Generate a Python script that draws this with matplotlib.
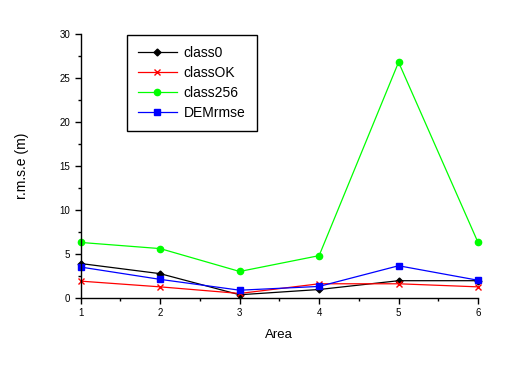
import matplotlib

matplotlib.use("Agg")
import matplotlib.pyplot as plt
from matplotlib.ticker import MultipleLocator

# data
areas = [1, 2, 3, 4, 5, 6]
class0 = [3.9, 2.75, 0.35, 0.95, 1.95, 1.95]
class_ok = [1.9, 1.25, 0.5, 1.6, 1.6, 1.25]
class256 = [6.3, 5.6, 3.0, 4.8, 26.8, 6.3]
dem_rmse = [3.5, 2.1, 0.87, 1.3, 3.65, 2.0]

plt.rcParams["font.family"] = ["Liberation Sans", "DejaVu Sans"]

fig = plt.figure(figsize=(5.08, 3.70), dpi=100)
ax = fig.add_axes([0.159, 0.195, 0.782, 0.713])

ax.plot(areas, class0, color="black", marker="D", markersize=3.5, linewidth=0.9, label="class0")
ax.plot(areas, class_ok, color="red", marker="x", markersize=4.5, linewidth=0.9, label="classOK")
ax.plot(areas, class256, color="#00ff00", marker="o", markersize=4.5, linewidth=0.9, label="class256")
ax.plot(areas, dem_rmse, color="blue", marker="s", markersize=4, linewidth=0.9, label="DEMrmse")

ax.set_xlim(1, 6)
ax.set_ylim(0, 30)
ax.xaxis.set_major_locator(MultipleLocator(1))
ax.xaxis.set_minor_locator(MultipleLocator(0.5))
ax.yaxis.set_major_locator(MultipleLocator(5))
ax.yaxis.set_minor_locator(MultipleLocator(2.5))
ax.tick_params(which="major", direction="out", length=4, width=1, labelsize=7)
ax.tick_params(which="minor", direction="out", length=2.5, width=1)
for side in ("top", "right"):
    ax.spines[side].set_visible(False)
for side in ("left", "bottom"):
    ax.spines[side].set_linewidth(1)
for line in ax.lines:
    line.set_clip_on(False)

ax.set_xlabel("Area", fontsize=9.5, labelpad=8)
ax.set_ylabel("r.m.s.e (m)", fontsize=10, labelpad=22)

leg = ax.legend(loc="upper left", bbox_to_anchor=(0.116, 0.996), borderaxespad=0,
                fontsize=10, fancybox=False, edgecolor="black", framealpha=1,
                handlelength=2.8, handletextpad=0.5, borderpad=0.8, labelspacing=0.42)
leg.get_frame().set_linewidth(1)

fig.savefig("out.png", dpi=100)
plt.close(fig)
